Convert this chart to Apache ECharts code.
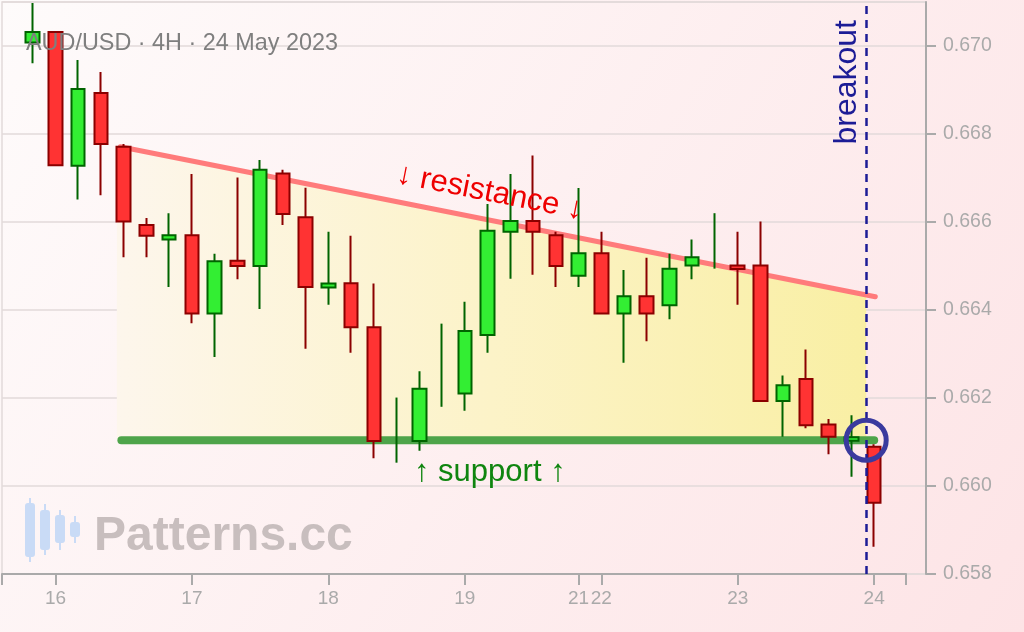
<!DOCTYPE html>
<html><head><meta charset="utf-8">
<script src="https://cdn.jsdelivr.net/npm/echarts@6/dist/echarts.min.js"></script>
<style>html,body{margin:0;padding:0;width:1024px;height:632px;overflow:hidden}#c{width:1024px;height:632px}</style>
</head><body><div id="c"></div>
<script>
// ---- data (AUD/USD 4H candles) ----
const opens  = [0.67008,0.67032,0.66728,0.66893,0.66771,0.66593,0.66560,0.66570,0.66392,0.66512,0.66500,0.66710,0.66611,0.66451,0.66461,0.66361,0.66120,0.66102,0.66270,0.66210,0.66343,0.66578,0.66602,0.66570,0.66478,0.66529,0.66392,0.66431,0.66411,0.66501,0.66520,0.66501,0.66501,0.66193,0.66243,0.66140,0.66103,0.66089];
const closes = [0.67032,0.66729,0.66902,0.66777,0.66601,0.66569,0.66570,0.66392,0.66511,0.66500,0.66719,0.66618,0.66452,0.66460,0.66361,0.66102,0.66120,0.66221,0.66270,0.66352,0.66580,0.66602,0.66578,0.66500,0.66529,0.66392,0.66431,0.66392,0.66494,0.66520,0.66520,0.66493,0.66193,0.66229,0.66138,0.66112,0.66111,0.65962];
const lows   = [0.66961,0.66729,0.66651,0.66661,0.66520,0.66520,0.66452,0.66370,0.66293,0.66470,0.66402,0.66593,0.66312,0.66412,0.66303,0.66063,0.66053,0.66080,0.66180,0.66171,0.66303,0.66471,0.66480,0.66452,0.66452,0.66392,0.66280,0.66329,0.66379,0.66470,0.66494,0.66412,0.66193,0.66112,0.66131,0.66072,0.66021,0.65862];
const highs  = [0.67098,0.67032,0.66968,0.66941,0.66777,0.66609,0.66620,0.66709,0.66528,0.66701,0.66741,0.66719,0.66678,0.66578,0.66569,0.66460,0.66201,0.66261,0.66369,0.66419,0.66641,0.66709,0.66751,0.66578,0.66677,0.66578,0.66491,0.66519,0.66528,0.66560,0.66620,0.66578,0.66601,0.66251,0.66310,0.66152,0.66161,0.66095];

const tickIdx    = [1, 7, 13, 19, 24, 25, 31, 37];
const tickLabels = ['16','17','18','19','21','22','23','24'];
const xRange = [-1.35, 38.40];
const yRange = [0.658, 0.671];

const resistanceX = [3.85, 37.05];
const resistanceY = [0.66771, 0.66430];
const supportX = [3.9, 37.0];
const supportY = [0.66104, 0.66104];
const fillX = [3.7, 36.65];
const fillTop = [0.66774, 0.66433];
const fillBottom = [0.66104, 0.66104];
const breakoutX = 36.65;
const breakoutY = 0.66104;
const resistanceLabel = [20.1, 0.66667];
const supportLabel = [20.1, 0.66031];

// ---- build ----
const candles = [], dojis = [];
opens.forEach((o, i) => {
  const row = [i, o, closes[i], lows[i], highs[i]];
  if (o === closes[i]) dojis.push(row); else candles.push(row);
});

const candleStyle = {
  color: '#33ee33', color0: '#ff3333',
  borderColor: '#006400', borderColor0: '#8b0000', borderColorDoji: '#006400',
  borderWidth: 2
};
const FONT = 'Liberation Sans, Arial, sans-serif';
const chart = echarts.init(document.getElementById('c'), null, {renderer: 'canvas'});

chart.setOption({
  animation: false,
  backgroundColor: new echarts.graphic.LinearGradient(0, 0, 1, 1, [
    {offset: 0, color: '#fefbfb'}, {offset: 1, color: '#fde4e6'}
  ]),
  textStyle: {fontFamily: FONT},
  title: {
    text: 'AUD/USD · 4H · 24 May 2023', left: 21, top: 27,
    textStyle: {fontSize: 23.4, fontWeight: 'normal', color: '#7f7f7f', fontFamily: FONT}
  },
  graphic: [
    {type: 'group', left: 25, top: 498, silent: true, children: [
      {type: 'rect', shape: {x: 4, y: 0, width: 2, height: 64}, style: {fill: '#c9dbf6'}},
      {type: 'rect', shape: {x: 0, y: 5, width: 10, height: 54, r: 3}, style: {fill: '#c9dbf6'}},
      {type: 'rect', shape: {x: 19, y: 6, width: 2, height: 51}, style: {fill: '#c9dbf6'}},
      {type: 'rect', shape: {x: 15, y: 12, width: 10, height: 40, r: 3}, style: {fill: '#c9dbf6'}},
      {type: 'rect', shape: {x: 34, y: 12, width: 2, height: 40}, style: {fill: '#c9dbf6'}},
      {type: 'rect', shape: {x: 30, y: 17, width: 10, height: 28, r: 3}, style: {fill: '#c9dbf6'}},
      {type: 'rect', shape: {x: 49, y: 18, width: 2, height: 27}, style: {fill: '#c9dbf6'}},
      {type: 'rect', shape: {x: 45, y: 24, width: 10, height: 15, r: 3}, style: {fill: '#c9dbf6'}}
    ]},
    {type: 'text', left: 94, top: 513, silent: true,
      style: {text: 'Patterns.cc', fontSize: 48, fontWeight: 'bold', fill: '#c8bebe', fontFamily: FONT}}
  ],
  grid: [
    {left: 2, right: 98, top: 2, bottom: 58, show: true, borderColor: '#e2dada', borderWidth: 1.5, backgroundColor: 'transparent', outerBoundsMode: 'none'},
    {left: 2, right: 118, top: 2, bottom: 58, outerBoundsMode: 'none'}
  ],
  xAxis: [
    {gridIndex: 0, type: 'value', min: 0, max: 1, show: false},
    {gridIndex: 1, type: 'value', min: xRange[0], max: xRange[1],
      axisLine: {show: true, onZero: false, lineStyle: {color: '#aaaaaa', width: 2}},
      axisTick: {show: true, length: 11, lineStyle: {color: '#aaaaaa', width: 2},
        customValues: [xRange[0]].concat(tickIdx, [xRange[1]])},
      axisLabel: {show: true, customValues: tickIdx, color: '#aaaaaa', fontSize: 19, margin: 15,
        fontFamily: FONT, formatter: v => tickLabels[tickIdx.indexOf(Math.round(v))] || ''},
      splitLine: {show: false}}
  ],
  yAxis: [
    {gridIndex: 0, type: 'value', position: 'right', min: yRange[0], max: yRange[1], interval: 0.002,
      axisLine: {show: true, onZero: false, lineStyle: {color: '#aaaaaa', width: 2}},
      axisTick: {show: true, length: 10, lineStyle: {color: '#aaaaaa', width: 2}},
      axisLabel: {color: '#aaaaaa', fontSize: 19.5, margin: 17, fontFamily: FONT, showMaxLabel: false,
        formatter: v => v.toFixed(3)},
      splitLine: {show: true, lineStyle: {color: '#e2dada', width: 1.5}}},
    {gridIndex: 1, type: 'value', min: yRange[0], max: yRange[1], show: false,
      axisLine: {onZero: false}, splitLine: {show: false}}
  ],
  series: [
    {type: 'custom', xAxisIndex: 1, yAxisIndex: 1, silent: true, z: 1, data: [0],
      renderItem: (params, api) => {
        const pts = [
          api.coord([fillX[0], fillTop[0]]), api.coord([fillX[1], fillTop[1]]),
          api.coord([fillX[1], fillBottom[1]]), api.coord([fillX[0], fillBottom[0]])
        ];
        return {type: 'polygon', shape: {points: pts},
          style: {fill: new echarts.graphic.LinearGradient(0, 0, 1, 0, [
            {offset: 0, color: '#fdf6ec'}, {offset: 0.5, color: '#fcf3c8'}, {offset: 1, color: '#f9efa4'}
          ])}};
      }},
    {type: 'line', name: 'resistance', xAxisIndex: 1, yAxisIndex: 1, silent: true, z: 2,
      data: resistanceX.map((x, i) => [x, resistanceY[i]]), symbol: 'none',
      lineStyle: {color: '#ff7b7b', width: 5, cap: 'round'}},
    {type: 'line', name: 'support', xAxisIndex: 1, yAxisIndex: 1, silent: true, z: 2,
      data: supportX.map((x, i) => [x, supportY[i]]), symbol: 'none',
      lineStyle: {color: '#4ea44a', width: 8, cap: 'round'}},
    {type: 'candlestick', name: 'AUD/USD', xAxisIndex: 1, yAxisIndex: 1, silent: true, z: 3,
      barWidth: 14, data: candles, itemStyle: candleStyle},
    {type: 'candlestick', name: 'doji', xAxisIndex: 1, yAxisIndex: 1, silent: true, z: 3,
      barWidth: 0.5, data: dojis, itemStyle: candleStyle},
    {type: 'scatter', name: 'labels', xAxisIndex: 1, yAxisIndex: 1, silent: true, z: 4,
      symbolSize: 0, itemStyle: {color: 'rgba(0,0,0,0)'},
      data: [
        {value: resistanceLabel, label: {show: true, position: 'inside', formatter: '↓ resistance ↓',
          rotate: -11.2, color: '#ee0000', fontSize: 31, fontFamily: FONT, textBorderWidth: 0, opacity: 1}},
        {value: supportLabel, label: {show: true, position: 'inside', formatter: '↑ support ↑',
          color: '#0f850f', fontSize: 31, fontFamily: FONT, textBorderWidth: 0, opacity: 1}}
      ]},
    {type: 'scatter', name: 'breakout', xAxisIndex: 1, yAxisIndex: 1, silent: true, z: 5,
      data: [[breakoutX, breakoutY]], symbol: 'circle', symbolSize: 40,
      itemStyle: {color: 'rgba(0,0,0,0)', borderColor: '#3a3a9e', borderWidth: 5, opacity: 1},
      markLine: {silent: true, symbol: 'none', animation: false,
        lineStyle: {color: '#1c1c96', width: 2.5, type: [8, 6]},
        label: {show: true, position: 'insideEndTop', formatter: 'breakout', color: '#1c1c96',
          fontSize: 32, fontFamily: FONT, distance: [18, 3], textBorderWidth: 0},
        data: [{xAxis: breakoutX}]}}
  ]
});
</script></body></html>
